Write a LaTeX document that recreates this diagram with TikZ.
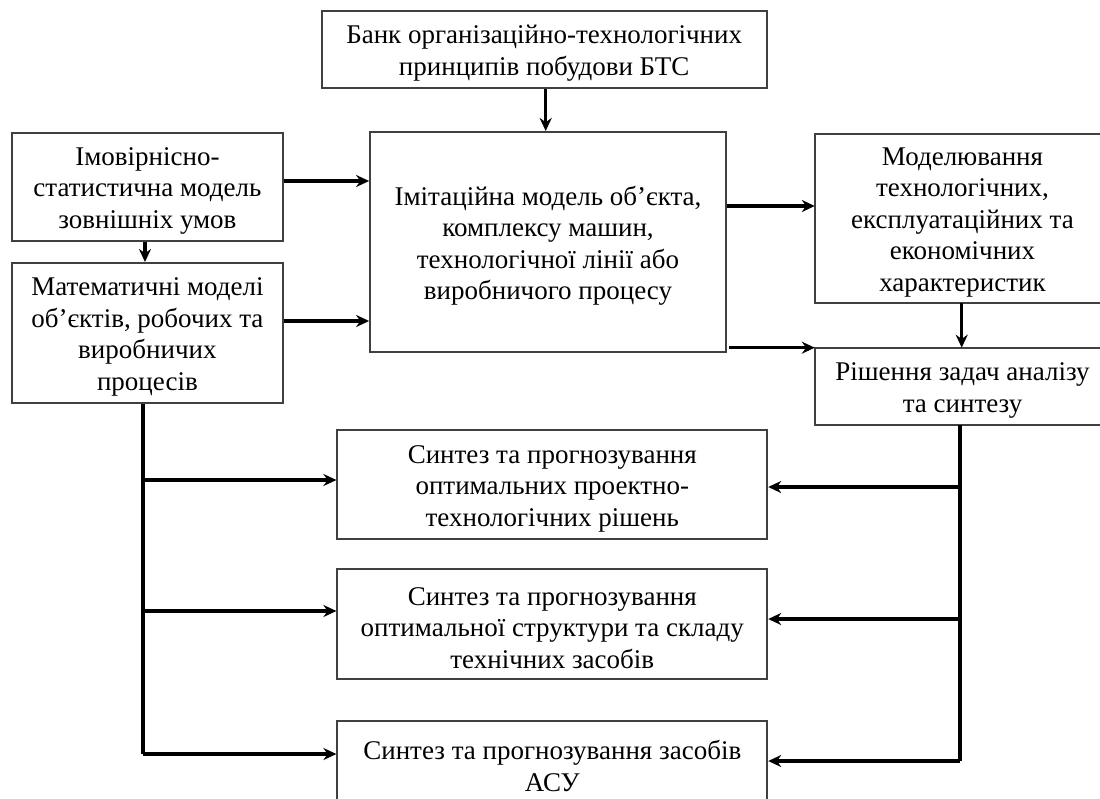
\documentclass[tikz,border=0pt]{standalone}
\usepackage{fontspec}
\setmainfont{Liberation Serif}
\usetikzlibrary{arrows.meta}
\begin{document}
\begin{tikzpicture}[x=1pt,y=-1pt,
  frame/.style={draw=black!75, line width=1.8pt, inner sep=0pt},
  openframe/.style={draw=none, inner sep=0pt},
  edge/.style={draw=black!75, line width=1.8pt},
  txt/.style={align=center, inner sep=0pt, font=\fontsize{27}{31.5}\selectfont},
  arr/.style={line width=3.1pt, -{Stealth[length=13pt,width=12pt]}},
  bus/.style={line width=3.1pt}]
\useasboundingbox (0,0) rectangle (1100,798);
\clip (0,0) rectangle (1100,798);

% block: frame node plus its caption, set a little below the middle
\newcommand\blk[7]{%
  \node[#1, minimum width=#5, minimum height=#6] (#2) at (#3,#4) {};
  \node[txt] (#2-t) at ([yshift=-4pt]#2.center) {#7};}

\blk{frame}{bank}{544.2}{49.4}{445}{77}
  {Банк організаційно-технологічних\\принципів побудови БТС}
\blk{frame}{stat}{147.4}{186.7}{271}{108}
  {Імовірнісно-\\статистична модель\\зовнішніх умов}
\blk{frame}{math}{147.4}{332.9}{271}{140}
  {Математичні моделі\\об’єктів, робочих та\\виробничих\\процесів}
\blk{frame}{imit}{548}{241.9}{356}{220}
  {Імітаційна модель об’єкта,\\комплексу машин,\\технологічної лінії або\\виробничого процесу}
\blk{frame}{syn1}{552.3}{484.5}{430}{109}
  {Синтез та прогнозування\\оптимальних проектно-\\технологічних рішень}
\blk{frame}{syn2}{552.3}{624}{430}{110}
  {Синтез та прогнозування\\оптимальної структури та складу\\технічних засобів}
\blk{frame}{syn3}{552.3}{762}{430}{82}
  {Синтез та прогнозування засобів\\АСУ}

% the two right-hand blocks run on past the right margin
\node[openframe, minimum width=295, minimum height=169] (char) at (962.5,218.5) {};
\node[txt] (char-t) at ([yshift=-4pt]char.center)
  {Моделювання\\технологічних,\\експлуатаційних та\\економічних\\характеристик};
\node[openframe, minimum width=295, minimum height=77] (solve) at (962.5,386.4) {};
\node[txt] (solve-t) at ([yshift=-4pt]solve.center) {Рішення задач аналізу\\та синтезу};
\draw[edge] ([xshift=60pt]char.north east) -- (char.north west)
  -- (char.south west) -- ([xshift=60pt]char.south east);
\draw[edge] ([xshift=60pt]solve.north east) -- (solve.north west)
  -- (solve.south west) -- ([xshift=60pt]solve.south east);

% levels of the links
\coordinate (h1) at (0,181);
\coordinate (h2) at (0,321);
\coordinate (h3) at (0,206);
\coordinate (h4) at (0,347.7);
\coordinate (vb) at (545.7,0);
\coordinate (vs) at (145,0);
\coordinate (vr) at (961.7,0);
\coordinate (lb) at (143,0);
\coordinate (rb) at (960,0);
\coordinate (l1) at (0,480);
\coordinate (l2) at (0,611);
\coordinate (l3) at (0,754);
\coordinate (r1) at (0,487);
\coordinate (r2) at (0,619);
\coordinate (r3) at (0,761);

% links between the upper blocks
\draw[arr] (bank.south -| vb) -- (imit.north -| vb);
\draw[arr] (stat.east |- h1) -- (imit.west |- h1);
\draw[arr] (math.east |- h2) -- (imit.west |- h2);
\draw[arr] (stat.south -| vs) -- (math.north -| vs);
\draw[arr] (imit.east |- h3) -- (char.west |- h3);
\draw[arr] ([xshift=2pt]imit.east |- h4) -- (solve.north west);
\draw[arr] (char.south -| vr) -- (solve.north -| vr);

% left bus to the synthesis blocks
\draw[bus] (math.south -| lb) -- (lb |- l3);
\draw[arr] (lb |- l1) -- (syn1.west |- l1);
\draw[arr] (lb |- l2) -- (syn2.west |- l2);
\draw[arr] (lb |- l3) -- (syn3.west |- l3);

% right bus to the synthesis blocks
\draw[bus] (solve.south -| rb) -- (rb |- r3);
\draw[arr] (rb |- r1) -- (syn1.east |- r1);
\draw[arr] (rb |- r2) -- (syn2.east |- r2);
\draw[arr] (rb |- r3) -- (syn3.east |- r3);
\end{tikzpicture}
\end{document}
